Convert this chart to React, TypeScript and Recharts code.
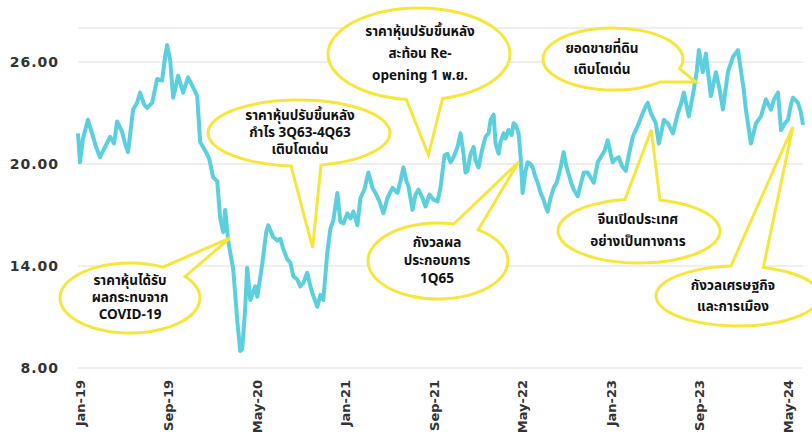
import { LineChart, Line, XAxis, YAxis, CartesianGrid, ReferenceDot } from "recharts";

// months since Jan 2019 and closing price (baht)
const months = [
  0, 0.18, 0.45, 0.9, 1.27, 1.63, 1.99, 2.44, 2.9, 3.26, 3.53, 3.98, 4.25, 4.52, 4.98, 5.34, 5.61, 5.97,
  6.24, 6.7, 7.15, 7.6, 7.87, 8.05, 8.33, 8.6, 9.05, 9.5, 9.95, 10.41, 10.77, 11.04, 11.49, 11.86, 12.22,
  12.58, 12.85, 13.12, 13.3, 13.57, 14.03, 14.39, 14.66, 14.84, 15.11, 15.29, 15.57, 16.02, 16.2, 16.65,
  17.01, 17.19, 17.65, 18.01, 18.28, 18.55, 18.91, 19.19, 19.46, 19.82, 20.09, 20.36, 20.72, 21.0, 21.18,
  21.63, 21.9, 22.17, 22.53, 22.81, 23.08, 23.44, 23.71, 23.98, 24.34, 24.62, 24.89, 25.25, 25.52, 25.88,
  26.24, 26.61, 26.88, 27.24, 27.6, 27.96, 28.42, 28.87, 29.14, 29.41, 29.68, 29.86, 30.23, 30.5, 30.77,
  31.13, 31.4, 31.76, 32.13, 32.49, 32.76, 33.12, 33.39, 33.67, 33.94, 34.3, 34.57, 34.84, 35.02, 35.2,
  35.48, 35.75, 35.93, 36.2, 36.47, 36.83, 37.1, 37.29, 37.56, 37.74, 38.01, 38.19, 38.46, 38.64, 38.91,
  39.19, 39.37, 39.55, 39.82, 40.0, 40.18, 40.45, 40.63, 40.9, 41.09, 41.36, 41.54, 41.81, 42.08, 42.26,
  42.44, 42.71, 42.99, 43.26, 43.62, 43.89, 44.16, 44.52, 44.8, 45.16, 45.43, 45.7, 46.06, 46.33, 46.61,
  46.97, 47.24, 47.6, 47.87, 48.14, 48.33, 48.6, 48.87, 49.14, 49.5, 49.77, 50.14, 50.41, 50.68, 51.04,
  51.31, 51.49, 51.76, 52.22, 52.49, 52.76, 52.94, 53.3, 53.76, 54.03, 54.21, 54.48, 54.75, 55.2, 55.66,
  55.93, 56.11, 56.47, 56.74, 57.01, 57.19, 57.65, 58.01, 58.28, 58.55, 58.73, 59.19, 59.64, 59.91, 60.18,
  60.36, 60.63, 60.81, 61.27, 61.72, 62.17, 62.62, 62.9, 63.26, 63.53, 63.89, 64.16, 64.43, 64.62, 65.07,
  65.34, 65.52,
];

const prices = [
  21.8, 20.1, 21.5, 22.6, 21.8, 21.0, 20.4, 21.0, 21.6, 21.2, 22.5, 21.9, 21.2, 20.7, 23.2, 23.6, 24.2, 23.5,
  23.3, 23.6, 25.0, 24.9, 26.3, 27.0, 26.1, 23.9, 25.2, 24.2, 25.1, 24.5, 24.0, 21.3, 20.8, 20.3, 19.2,
  19.0, 16.8, 16.0, 17.3, 15.5, 13.8, 10.8, 9.0, 9.1, 11.5, 13.9, 12.0, 12.8, 12.2, 14.1,
  16.0, 16.4, 15.7, 15.5, 15.6, 15.0, 14.4, 14.2, 13.4, 13.2, 12.8, 13.0, 13.6, 12.8, 12.4,
  11.6, 12.3, 12.0, 14.8, 16.2, 16.7, 18.3, 16.6, 16.5, 17.1, 16.8, 17.2, 16.4, 18.0, 18.5,
  19.5, 18.6, 18.3, 17.8, 17.1, 18.0, 18.6, 18.3, 19.0, 19.8, 19.0, 18.7, 17.3, 18.2, 18.5,
  18.0, 17.5, 18.2, 17.9, 17.8, 18.6, 20.5, 20.6, 20.1, 20.4, 21.0, 21.8, 20.6, 19.5, 19.6,
  20.6, 21.0, 20.2, 19.8, 20.7, 21.6, 21.8, 22.6, 22.9, 21.2, 20.6, 21.3, 21.8, 21.5, 22.0,
  21.7, 22.4, 22.3, 21.8, 20.4, 18.3, 19.6, 20.1, 20.0, 19.8, 19.2, 18.9, 18.3, 17.9, 17.5,
  17.2, 18.0, 18.6, 18.9, 19.8, 20.7, 19.8, 19.0, 18.5, 18.1, 18.8, 19.5, 19.5, 19.2, 18.9,
  20.1, 20.4, 20.8, 21.4, 20.6, 20.1, 20.3, 20.4, 19.9, 19.6, 20.5, 21.6, 22.0, 22.4, 23.0,
  23.4, 23.6, 23.0, 22.4, 21.2, 22.0, 22.6, 22.4, 21.8, 22.5, 23.0, 23.5, 24.2, 22.8, 24.4,
  25.5, 26.7, 25.4, 26.5, 25.0, 24.0, 25.4, 24.3, 23.2, 24.5, 25.4, 26.3, 26.7, 25.5, 24.3,
  23.2, 22.0, 21.2, 22.4, 22.8, 23.8, 23.2, 23.8, 24.2, 22.0, 22.4, 22.6, 23.5, 23.9, 23.6,
  23.0, 22.3,
];

const tickMonths = [0, 8, 16, 24, 32, 40, 48, 56, 64];
const tickLabels = ["Jan-19", "Sep-19", "May-20", "Jan-21", "Sep-21", "May-22", "Jan-23", "Sep-23", "May-24"];
const yTicks = [8, 14, 20, 26];

const noteTexts = [
  ["ราคาหุ้นได้รับ", "ผลกระทบจาก", "COVID-19"],
  ["ราคาหุ้นปรับขึ้นหลัง", "กำไร 3Q63-4Q63", "เติบโตเด่น"],
  ["ราคาหุ้นปรับขึ้นหลัง", "สะท้อน Re-", "opening 1 พ.ย."],
  ["กังวลผล", "ประกอบการ", "1Q65"],
  ["ยอดขายที่ดิน", "เติบโตเด่น"],
  ["จีนเปิดประเทศ", "อย่างเป็นทางการ"],
  ["กังวลเศรษฐกิจ", "และการเมือง"],
];
// where each callout's tail points (month, price)
const noteMonths = [13.75, 21.2, 31.67, 39.82, 55.84, 51.81, 64.6];
const notePrices = [15.65, 15.06, 20.53, 20.12, 24.82, 22.0, 22.18];

// bubble layout in pixels: ellipse centre/radii, tail base angles, text centre and line gap
const bubbles = [
  { x: 130, y: 298, rx: 70, ry: 35, a1: -62, a2: -38, tx: 130, gap: 17 },
  { x: 299, y: 133, rx: 91, ry: 33, a1: 76, a2: 95, tx: 300, gap: 17 },
  { x: 419, y: 54, rx: 91, ry: 46, a1: 75, a2: 98, tx: 420, gap: 22 },
  { x: 438, y: 261, rx: 70, ry: 38, a1: -77, a2: -55, tx: 437, gap: 18 },
  { x: 613, y: 59, rx: 70, ry: 31, a1: 18, a2: 48, tx: 602, gap: 21 },
  { x: 639, y: 231, rx: 81, ry: 32, a1: -100, a2: -75, tx: 638, gap: 22 },
  { x: 738, y: 296, rx: 82, ry: 30, a1: -95, a2: -72, tx: 733, gap: 21 },
];

const data = months.map((m, i) => ({ m, price: prices[i] }));

const YELLOW = "#F6E63C";
const thaiFont = "'Noto Sans Thai', 'Noto Sans', 'DejaVu Sans', sans-serif";

function Bubble(props: any) {
  const { cx, cy, box, lines } = props;
  const pt = (a: number) => {
    const r = (a * Math.PI) / 180;
    return [box.x + box.rx * Math.cos(r), box.y + box.ry * Math.sin(r)];
  };
  const [x1, y1] = pt(box.a1);
  const [x2, y2] = pt(box.a2);
  const d = `M${x1},${y1} L${cx},${cy} L${x2},${y2} A${box.rx},${box.ry} 0 1 1 ${x1},${y1} Z`;
  return (
    <g>
      <path d={d} fill="#fff" stroke={YELLOW} strokeWidth={3} strokeLinejoin="miter" />
      {lines.map((t: string, i: number) => (
        <text
          key={i}
          x={box.tx}
          y={box.y + (i - (lines.length - 1) / 2) * box.gap}
          textAnchor="middle"
          dominantBaseline="central"
          fontFamily={thaiFont}
          fontWeight={700}
          fontSize={13.5}
          fill="#111"
        >
          {t}
        </text>
      ))}
    </g>
  );
}

function MonthTick(props: any) {
  const { x, y, payload } = props;
  const i = tickMonths.indexOf(payload.value);
  return (
    <text
      transform={`translate(${x + 2},${y + 4}) rotate(-90)`}
      textAnchor="end"
      dominantBaseline="central"
      fontFamily="'DejaVu Sans', sans-serif"
      fontWeight={700}
      fontSize={13}
      fill="#333"
    >
      {tickLabels[i]}
    </text>
  );
}

export default function App() {
  return (
    <div style={{ position: "absolute", left: 0, top: 0, background: "#fff" }}>
      <LineChart width={812} height={437} data={data} margin={{ top: 28, right: 9, bottom: 0, left: 0 }}>
        <CartesianGrid vertical={false} stroke="#dedede" />
        <XAxis
          dataKey="m"
          type="number"
          domain={[0, 65.5]}
          ticks={tickMonths}
          tick={<MonthTick />}
          tickLine={false}
          axisLine={false}
          height={69}
          interval={0}
        />
        <YAxis
          type="number"
          domain={[8, 28]}
          ticks={yTicks}
          tickFormatter={(v: number) => v.toFixed(2)}
          tickLine={false}
          axisLine={false}
          width={78}
          tickMargin={13}
          tick={{ fontFamily: "'DejaVu Sans', sans-serif", fontWeight: 700, fontSize: 14, fill: "#333", letterSpacing: 1 }}
        />
        <Line
          type="linear"
          dataKey="price"
          stroke="#5BCFDE"
          strokeWidth={4}
          strokeLinejoin="round"
          dot={false}
          isAnimationActive={false}
        />
        {noteTexts.map((lines, i) => (
          <ReferenceDot
            key={i}
            x={noteMonths[i]}
            y={notePrices[i]}
            r={0}
            shape={(p: any) => <Bubble {...p} box={bubbles[i]} lines={lines} />}
          />
        ))}
      </LineChart>
    </div>
  );
}
